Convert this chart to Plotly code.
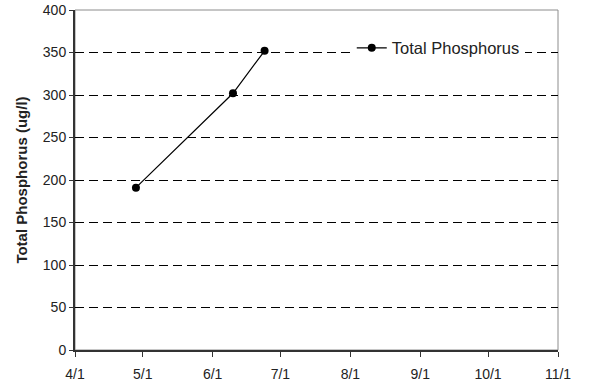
"""Total phosphorus over the season."""

import plotly.graph_objects as go

sample_dates = ["2005-04-28", "2005-06-10", "2005-06-24"]
total_phosphorus = [191, 302, 352]

month_ticks = [
    "2005-04-01", "2005-05-01", "2005-06-01", "2005-07-01",
    "2005-08-01", "2005-09-01", "2005-10-01", "2005-11-01",
]
month_labels = ["4/1", "5/1", "6/1", "7/1", "8/1", "9/1", "10/1", "11/1"]
y_ticks = [0, 50, 100, 150, 200, 250, 300, 350, 400]

fig = go.Figure()
fig.add_trace(
    go.Scatter(
        x=sample_dates,
        y=total_phosphorus,
        mode="lines+markers",
        name="Total Phosphorus",
        line=dict(color="black", width=1.2),
        marker=dict(color="black", size=8),
    )
)

# light frame on top/right, heavier axes on left/bottom
fig.add_shape(
    type="rect", xref="paper", yref="paper", x0=0, y0=0, x1=1, y1=1,
    line=dict(color="#8c8c8c", width=1), layer="below",
)

fig.update_layout(
    width=589,
    height=387,
    margin=dict(l=75, r=31, t=10, b=37),
    paper_bgcolor="white",
    plot_bgcolor="white",
    font=dict(family="Liberation Sans, Arial, sans-serif", size=14, color="#222"),
    showlegend=True,
    legend=dict(
        x=0.573, y=0.888, xanchor="left", yanchor="middle",
        bgcolor="white", borderwidth=0, font=dict(size=16.5),
    ),
)
fig.update_xaxes(
    range=[month_ticks[0], month_ticks[-1]],
    tickvals=month_ticks,
    ticktext=month_labels,
    automargin=False,
    showgrid=False,
    zeroline=False,
    showline=True,
    linecolor="#333",
    linewidth=2,
    ticks="outside",
    ticklen=5,
    tickcolor="#333",
    tickfont=dict(size=14),
    ticklabelstandoff=5,
)
fig.update_yaxes(
    range=[0, 400],
    tickvals=y_ticks,
    automargin=False,
    showgrid=True,
    gridcolor="black",
    gridwidth=1,
    griddash="9px,5px",
    zeroline=False,
    showline=True,
    linecolor="#333",
    linewidth=2,
    ticks="outside",
    ticklen=4,
    tickcolor="#333",
    tickfont=dict(size=14),
    title=dict(
        text="<b>Total Phosphorus (ug/l)</b>",
        font=dict(size=15),
        standoff=12,
    ),
)

# drop the browser's default 8px body margin so the figure sits at 0,0
fig.write_html(
    "out.html",
    config={"displayModeBar": False},
    post_script="document.body.style.margin = '0';",
)
